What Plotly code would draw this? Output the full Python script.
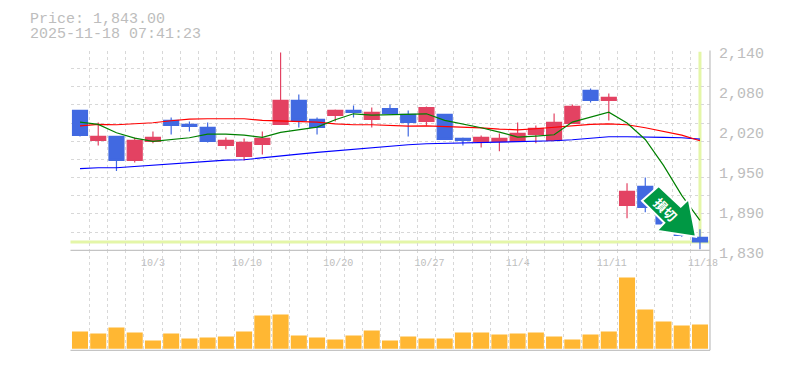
import plotly.graph_objects as go

W, H = 785, 370

opens = [2047, 2000.5, 2006.7, 1969.5, 1999, 2031.5, 2025.3, 2020.6, 1992.75, 1975.7, 1994.3, 2025.3,
         2062.5, 2033, 2039.25, 2047, 2033, 2050, 2040.8, 2030, 2040.8, 2003.6, 1999, 1999, 1999,
         2009.8, 2000.5, 2026.9, 2078, 2062.5, 1899.7, 1929.2, 1900, 1878, 1850]
closes = [2008.25, 2006.7, 1969.5, 2000.5, 2005.1, 2023.75, 2022.2, 1999, 2000.5, 1997.4, 2003.6, 2062.5,
          2031.5, 2020.6, 2047, 2043.9, 2043.9, 2042.3, 2028.4, 2051.6, 2002, 2000.5, 2005.1, 2003.6, 2011.3,
          2019.1, 2028.4, 2053.2, 2062.5, 2067.2, 1921.4, 1896.7, 1871, 1853, 1843]
highs = [2047, 2028.4, 2006.7, 2005.1, 2014.5, 2036.1, 2030, 2028.4, 2005.1, 2003.6, 2014.5, 2136.9,
         2071.8, 2036.1, 2048.6, 2054.8, 2051.6, 2056.3, 2047, 2053.2, 2040.8, 2005.1, 2008.2, 2011.3, 2028.4,
         2023.75, 2042.3, 2056.3, 2081.1, 2073.4, 1933.9, 1943.1, 1905, 1885, 1862.5]
lows = [2006.7, 1992.75, 1953, 1966.4, 1995.9, 2009.8, 2014.5, 1997.4, 1986.6, 1969.5, 1978.8, 2025.3,
        2020.6, 2009.8, 2030, 2036.1, 2020.6, 2042.3, 2006.7, 2023.75, 2002, 1992.75, 1989.6, 1983.5, 1999,
        1995.9, 2000.5, 2026.9, 2059.4, 2031.5, 1879.6, 1888.9, 1865, 1851, 1831.5]
ma_short = [2028.9, 2025.3, 2012.4, 2004.1, 1999, 2001.5, 2004.6, 2010.3, 2010.3, 2008.8, 2005.1, 2012.9,
            2017, 2021.2, 2032.5, 2041.8, 2039.8, 2040.8, 2041.8, 2041.8, 2031.5, 2026.3, 2020.1, 2013.4,
            2005.7, 2007.2, 2009.3, 2028.9, 2036.7, 2044.4, 2027.4, 2002, 1961.8, 1915.2, 1876.5]
ma_mid = [2023.2, 2025.3, 2024.8, 2026.3, 2027.9, 2031, 2033.6, 2034.1, 2034.1, 2034.1, 2031.5, 2030.5,
          2029.4, 2028.9, 2026.3, 2024.8, 2024.8, 2023.2, 2022.7, 2023.2, 2022.2, 2020.6, 2020.1, 2018,
          2017, 2018.6, 2021.2, 2023.8, 2025.3, 2026.3, 2024.8, 2020.1, 2015, 2008.8, 2000]
ma_long = [1956.6, 1958.1, 1958.1, 1960.2, 1961.8, 1963.8, 1965.9, 1968, 1970, 1970.5, 1973.6, 1977.2,
           1979.3, 1981.9, 1984.5, 1987.1, 1988.6, 1991.2, 1993.8, 1995.3, 1995.9, 1996.9, 1997.4, 1997.9,
           1998.4, 1998.4, 2000, 2001.5, 2003.6, 2006.2, 2006.2, 2006.2, 2005.1, 2004.6, 2002.5]
volumes = [173, 153, 213, 163, 83, 153, 103, 113, 123, 173, 333, 343, 133, 113, 93, 133, 183, 83, 123, 103,
           103, 163, 163, 143, 153, 163, 123, 93, 143, 173, 713, 393, 273, 233, 243]
x_idx = list(range(len(opens)))
date_tick_idx = [4, 9, 14, 19, 24, 29, 34]
date_tick_labels = ["10/3", "10/10", "10/20", "10/27", "11/4", "11/11", "11/18"]
price_ticks = [2140, 2078, 2016, 1954, 1892, 1830]
price_tick_labels = ["2,140", "2,080", "2,020", "1,950", "1,890", "1,830"]
last_price = 1843
title_lines = ["Price: 1,843.00", "2025-11-18 07:41:23"]
stamp_text = "損切"

RED, BLUE, ORANGE = "#E34262", "#4169E1", "#FFB733"
GRID, AXIS, TXT, HILITE = "#D8D8D8", "#C4C4C4", "#BDBDBD", "#E4F6A8"
MONO = "Liberation Mono, DejaVu Sans Mono, monospace"

L, R, T, M, B = 70.5, 710, 50.5, 250.3, 350.3
def px(x): return x / W
def py(y): return 1 - y / H

fig = go.Figure()
for vals, col in [(ma_long, "#0000FF"), (ma_mid, "#FF0000"), (ma_short, "#008000")]:
    fig.add_trace(go.Scatter(x=x_idx, y=vals, mode="lines", line=dict(color=col, width=1.2),
                             hoverinfo="skip", showlegend=False))
fig.add_trace(go.Candlestick(x=x_idx, open=opens, high=highs, low=lows, close=closes,
                             increasing=dict(line=dict(color=RED, width=1.2), fillcolor=RED),
                             decreasing=dict(line=dict(color=BLUE, width=1.2), fillcolor=BLUE),
                             whiskerwidth=0, showlegend=False))
fig.add_trace(go.Bar(x=x_idx, y=volumes, marker=dict(color=ORANGE, line_width=0),
                     xaxis="x2", yaxis="y2", showlegend=False))

grid_x = [i - 0.5 for i in range(len(opens) + 1)]
grid_y = [1830 + 310 * i / 11 for i in range(12)]
x_lo, x_hi = -0.521, 34.55
minor_x = dict(tickvals=grid_x, showgrid=True, gridcolor=GRID, griddash="3px,3px", gridwidth=1, ticklen=0)

shift_ticks = [i + (len(t) - 5) * 0.16 for i, t in zip(date_tick_idx, date_tick_labels)]
fig.update_layout(
    width=W, height=H, autosize=False, margin=dict(l=0, r=0, t=0, b=0, autoexpand=False),
    paper_bgcolor="white", plot_bgcolor="white", showlegend=False, boxgap=0.18, boxgroupgap=0, bargap=0.12,
    font=dict(family=MONO, color=TXT),
    xaxis=dict(domain=[px(L), px(R)], range=[x_lo, x_hi], anchor="y", side="bottom", tickmode="array",
               tickvals=shift_ticks, ticktext=date_tick_labels, tickfont=dict(family=MONO, size=10, color=TXT),
               ticklabelshift=3, ticklabelstandoff=5, ticks="", showgrid=False, zeroline=False,
               rangeslider=dict(visible=False), minor=minor_x, showline=False),
    yaxis=dict(domain=[py(M), py(T)], range=[1830, 2140], side="right", anchor="x", tickmode="array",
               tickvals=price_ticks, ticktext=price_tick_labels, tickfont=dict(family=MONO, size=15, color=TXT),
               ticklabelshift=2, ticklabelstandoff=8, ticks="", showgrid=False, zeroline=False,
               minor=dict(tickvals=grid_y, showgrid=True, gridcolor=GRID, griddash="3px,3px", gridwidth=1, ticklen=0)),
    xaxis2=dict(domain=[px(L), px(R)], range=[x_lo, x_hi], anchor="y2", showticklabels=False, ticks="",
                showgrid=False, zeroline=False, minor=minor_x, tickvals=[]),
    yaxis2=dict(domain=[py(B), py(M)], range=[-15, 985], anchor="x2", showticklabels=False, showgrid=False,
                zeroline=False, ticks=""),
    shapes=[
        dict(type="line", xref="x domain", yref="y", x0=0, x1=1, y0=last_price, y1=last_price,
             line=dict(color=HILITE, width=3), layer="below"),
        dict(type="line", xref="x", yref="y", x0=x_idx[-1], x1=x_idx[-1], y0=last_price, y1=2138,
             line=dict(color=HILITE, width=3), layer="below"),
        dict(type="line", xref="paper", yref="paper", x0=px(L), x1=px(R), y0=py(M), y1=py(M),
             line=dict(color=AXIS, width=1.3)),
        dict(type="line", xref="paper", yref="paper", x0=px(L), x1=px(R), y0=py(B), y1=py(B),
             line=dict(color=AXIS, width=1.3)),
        dict(type="line", xref="paper", yref="paper", x0=px(R), x1=px(R), y0=py(T), y1=py(B),
             line=dict(color=AXIS, width=1.3)),
        dict(type="path", xref="paper", yref="paper", layer="above",
             path="M " + " L ".join(f"{px(a):.5f},{py(b):.5f}" for a, b in
                                    [(642, 200.7), (658.7, 186), (680.7, 206.7), (688.7, 199),
                                     (696, 236.7), (656.7, 230.7), (664.3, 222.7)]) + " Z",
             fillcolor="#009844", line=dict(color="white", width=2)),
    ],
    annotations=[
        dict(xref="paper", yref="paper", x=px(28), y=py(19.5), xanchor="left", yanchor="middle",
             text=title_lines[0], showarrow=False, font=dict(family=MONO, size=15, color=TXT)),
        dict(xref="paper", yref="paper", x=px(28), y=py(34.5), xanchor="left", yanchor="middle",
             text=title_lines[1], showarrow=False, font=dict(family=MONO, size=15, color=TXT)),
        dict(xref="paper", yref="paper", x=px(666), y=py(209), xanchor="center", yanchor="middle",
             text=f"<b>{stamp_text}</b>", textangle=45, showarrow=False,
             font=dict(family="Noto Sans CJK JP", size=13, color="white")),
    ],
)
fig.write_html("out.html", config=dict(displayModeBar=False),
               post_script="document.body.style.margin='0';document.documentElement.style.overflow='hidden';")
